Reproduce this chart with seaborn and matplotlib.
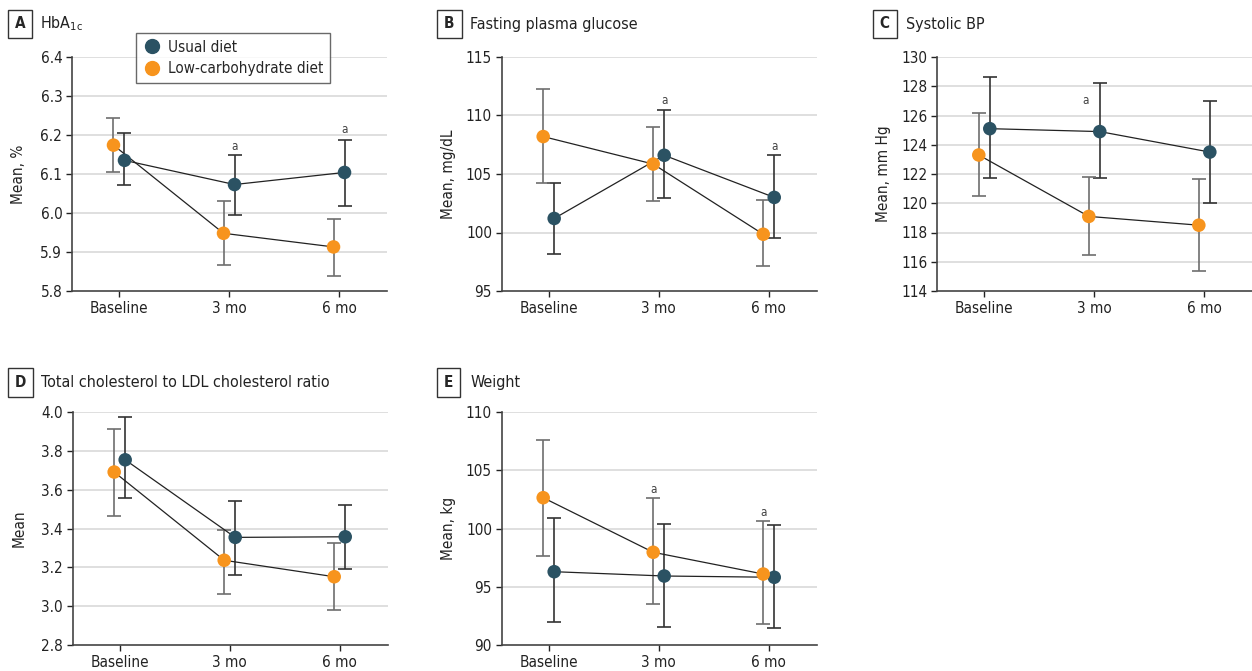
import numpy as np
import pandas as pd
import matplotlib
matplotlib.use('Agg')
import matplotlib.pyplot as plt
from matplotlib.lines import Line2D
import seaborn as sns

# time points and groups
timepoints = ['Baseline', '3 mo', '6 mo']
groups = ['Usual diet', 'Low-carbohydrate diet']

# A  HbA1c (%)
hba1c_usual = [6.135, 6.073, 6.104]
hba1c_usual_lo = [6.071, 5.996, 6.019]
hba1c_usual_hi = [6.206, 6.148, 6.188]
hba1c_lowcarb = [6.174, 5.948, 5.913]
hba1c_lowcarb_lo = [6.106, 5.867, 5.839]
hba1c_lowcarb_hi = [6.244, 6.030, 5.985]

# B  fasting plasma glucose (mg/dL)
fpg_usual = [101.2, 106.6, 103.0]
fpg_usual_lo = [98.2, 102.95, 99.55]
fpg_usual_hi = [104.2, 110.5, 106.6]
fpg_lowcarb = [108.2, 105.85, 99.85]
fpg_lowcarb_lo = [104.25, 102.65, 97.1]
fpg_lowcarb_hi = [112.3, 109.05, 102.75]

# C  systolic BP (mm Hg)
sbp_usual = [125.1, 124.9, 123.5]
sbp_usual_lo = [121.7, 121.7, 120.05]
sbp_usual_hi = [128.6, 128.2, 127.0]
sbp_lowcarb = [123.3, 119.1, 118.5]
sbp_lowcarb_lo = [120.5, 116.45, 115.4]
sbp_lowcarb_hi = [126.2, 121.8, 121.65]

# D  total cholesterol to LDL ratio
chol_usual = [3.755, 3.355, 3.358]
chol_usual_lo = [3.556, 3.159, 3.192]
chol_usual_hi = [3.976, 3.541, 3.522]
chol_lowcarb = [3.692, 3.237, 3.152]
chol_lowcarb_lo = [3.465, 3.063, 2.980]
chol_lowcarb_hi = [3.915, 3.395, 3.324]

# E  weight (kg)
wt_usual = [96.3, 95.93, 95.82]
wt_usual_lo = [91.97, 91.57, 91.49]
wt_usual_hi = [100.9, 100.42, 100.31]
wt_lowcarb = [102.66, 97.97, 96.1]
wt_lowcarb_lo = [97.65, 93.55, 91.78]
wt_lowcarb_hi = [107.59, 102.66, 100.68]

colors = {'Usual diet': '#2b5263', 'Low-carbohydrate diet': '#f7941d'}
bar_colors = {'Usual diet': '#333333', 'Low-carbohydrate diet': '#6e6e6e'}
dodge = {'Usual diet': 0.05, 'Low-carbohydrate diet': -0.05}

panels = [
    dict(letter='A', title=r'HbA$_{\mathregular{1c}}$', ylabel='Mean, %',
         usual=(hba1c_usual, hba1c_usual_lo, hba1c_usual_hi),
         low=(hba1c_lowcarb, hba1c_lowcarb_lo, hba1c_lowcarb_hi),
         ylim=(5.8, 6.4), step=0.1, fmt='{:.1f}',
         ann=[(1.05, 6.171), (2.05, 6.214)], pos=(72, 57, 315, 234)),
    dict(letter='B', title='Fasting plasma glucose', ylabel='Mean, mg/dL',
         usual=(fpg_usual, fpg_usual_lo, fpg_usual_hi),
         low=(fpg_lowcarb, fpg_lowcarb_lo, fpg_lowcarb_hi),
         ylim=(95, 115), step=5, fmt='{:.0f}',
         ann=[(1.05, 111.3), (2.05, 107.35)], pos=(501.7, 57, 315, 234)),
    dict(letter='C', title='Systolic BP', ylabel='Mean, mm Hg',
         usual=(sbp_usual, sbp_usual_lo, sbp_usual_hi),
         low=(sbp_lowcarb, sbp_lowcarb_lo, sbp_lowcarb_hi),
         ylim=(114, 130), step=2, fmt='{:.0f}',
         ann=[(0.925, 127.03)], pos=(937.3, 57, 315, 234)),
    dict(letter='D', title='Total cholesterol to LDL cholesterol ratio', ylabel='Mean',
         usual=(chol_usual, chol_usual_lo, chol_usual_hi),
         low=(chol_lowcarb, chol_lowcarb_lo, chol_lowcarb_hi),
         ylim=(2.8, 4.0), step=0.2, fmt='{:.1f}',
         ann=[], pos=(72.7, 412.3, 315, 232.7)),
    dict(letter='E', title='Weight', ylabel='Mean, kg',
         usual=(wt_usual, wt_usual_lo, wt_usual_hi),
         low=(wt_lowcarb, wt_lowcarb_lo, wt_lowcarb_hi),
         ylim=(90, 110), step=5, fmt='{:.0f}',
         ann=[(0.95, 103.38), (1.95, 101.4)], pos=(501.7, 412.3, 315, 232.7)),
]

sns.set_style('white')
plt.rcParams['font.family'] = ['DejaVu Sans']
plt.rcParams['font.stretch'] = 'condensed'
plt.rcParams['mathtext.fontset'] = 'custom'
plt.rcParams['mathtext.rm'] = 'DejaVu Sans:stretch=condensed'

W, H = 1252, 671
fig = plt.figure(figsize=(W / 100, H / 100), dpi=100)
FS = 11

for p in panels:
    left, top, w, h = p['pos']
    ax = fig.add_axes([left / W, 1 - (top + h) / H, w / W, h / H])

    rows = []
    for g, vals in zip(groups, [p['usual'], p['low']]):
        for i, t in enumerate(timepoints):
            rows.append(dict(diet=g, time=t, x=i + dodge[g],
                             mean=vals[0][i], lo=vals[1][i], hi=vals[2][i]))
    df = pd.DataFrame(rows)

    ymin, ymax = p['ylim']
    yt = np.arange(ymin, ymax + p['step'] / 2, p['step'])
    for y in yt[1:]:
        ax.axhline(y, color='#dcdcdc', lw=1.3, zorder=0)

    for g in groups:
        d = df[df['diet'] == g]
        sns.lineplot(x=d['x'], y=d['mean'], color='#222222', lw=0.9,
                     ax=ax, zorder=2, sort=False)
        ax.errorbar(d['x'], d['mean'], yerr=[d['mean'] - d['lo'], d['hi'] - d['mean']],
                    fmt='none', ecolor=bar_colors[g], elinewidth=1.2,
                    capsize=5, capthick=1.2, zorder=1)
    sns.scatterplot(data=df, x='x', y='mean', hue='diet', palette=colors,
                    s=95, edgecolor='none', zorder=4, legend=False, ax=ax)

    for ax_x, ax_y in p['ann']:
        ax.text(ax_x, ax_y, 'a', ha='center', va='center', fontsize=8.5, color='#444444')

    ax.set_xlim(-0.427, 2.436)
    ax.set_ylim(ymin, ymax)
    ax.set_xticks(range(len(timepoints)))
    ax.set_xticklabels(timepoints)
    ax.set_yticks(yt)
    ax.set_yticklabels([p['fmt'].format(v) for v in yt])
    ax.set_xlabel('')
    ax.set_ylabel(p['ylabel'], fontsize=FS, color='#222222')
    ax.yaxis.set_label_coords(-46 / w, 0.5)
    ax.tick_params(axis='both', labelsize=FS, colors='#222222', length=4,
                   width=1, direction='out', left=True, bottom=True, pad=3)
    for s in ['top', 'right']:
        ax.spines[s].set_visible(False)
    for s in ['left', 'bottom']:
        ax.spines[s].set_color('#444444')
        ax.spines[s].set_linewidth(1.2)

    # panel letter and title
    yc = 1 - (top - (33 if top < 100 else 30)) / H
    fig.text((left - 57.5) / W, yc, p['letter'], fontsize=11, fontweight='bold',
             va='center', ha='left',
             bbox=dict(boxstyle='square,pad=0.45', fc='white', ec='#333333', lw=1))
    fig.text((left - 31.5) / W, yc, p['title'], fontsize=11.5, va='center',
             ha='left', color='#222222')

handles = [Line2D([], [], marker='o', ls='none', color=colors[g], ms=10) for g in groups]
fig.legend(handles, groups, loc='upper left', bbox_to_anchor=(135.7 / W, 1 - 32.7 / H),
           borderaxespad=0, frameon=True, fancybox=False, edgecolor='#444444', fontsize=FS,
           handletextpad=0.45, borderpad=0.45, labelspacing=0.45, handlelength=1.2)

fig.savefig('out.png', dpi=100)
